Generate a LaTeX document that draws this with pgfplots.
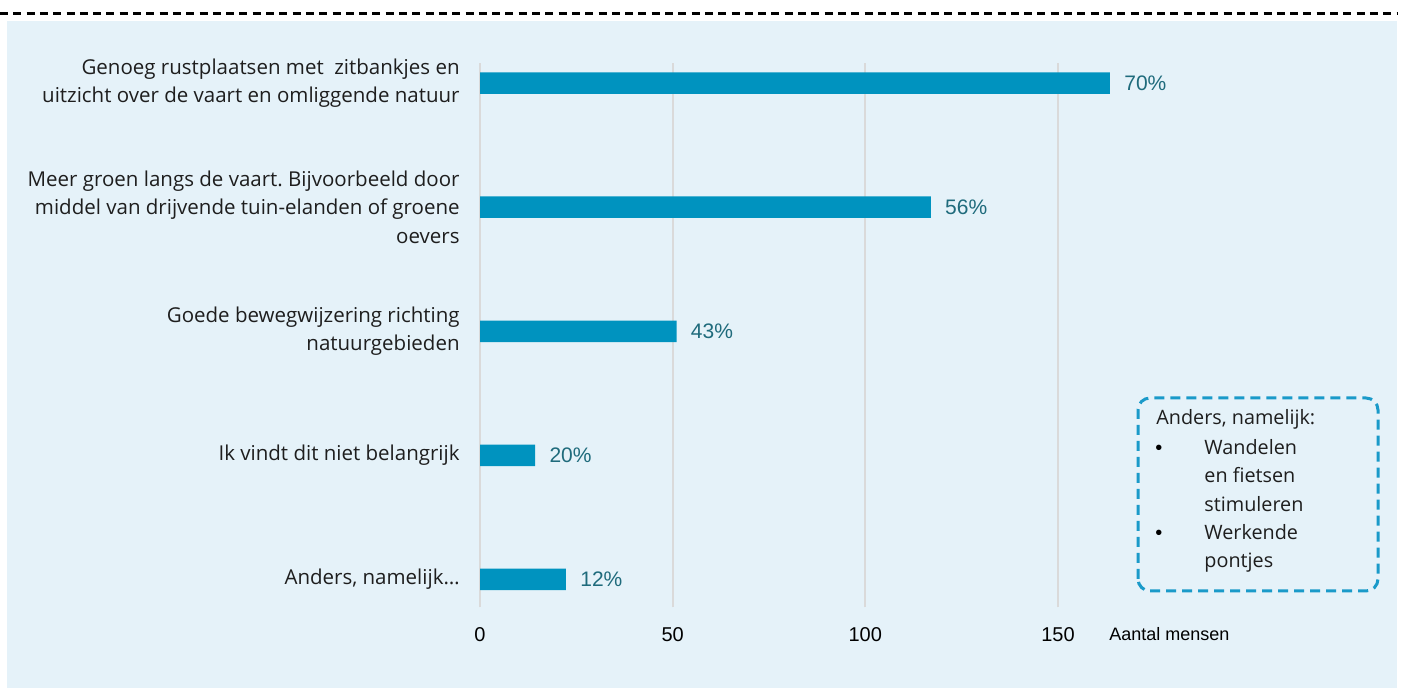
\documentclass[border=0pt]{standalone}
\usepackage{pgfplots}
\pgfplotsset{compat=1.18}
\usepackage{pgfplotstable}
\usepackage{fontspec}
\setmainfont{Liberation Sans}
\newfontfamily\labfont{Open Sans}
\frenchspacing

\definecolor{bg}{HTML}{E5F2F9}
\definecolor{barc}{HTML}{0093BF}
\definecolor{lblc}{HTML}{1F6B7C}
\definecolor{gridc}{HTML}{DADADA}
\definecolor{boxc}{HTML}{1A9AC9}
\definecolor{txt}{HTML}{1E1E1E}

% bar length in persons, y position, percentage shown
\pgfplotstableread{
v y p
163.5 4 70
117 3 56
51 2 43
14.3 1 20
22.3 0 12
}\data

\begin{document}
\begin{tikzpicture}
\useasboundingbox (0,0) rectangle (701pt,344pt);
\fill[bg] (3.5pt,0) rectangle (698.5pt,333.5pt);
\draw[black, line width=1.5pt, dash pattern=on 4pt off 2.65pt] (0,337.3pt) -- (698.5pt,337.3pt);

\begin{axis}[
    at={(240pt,40.25pt)}, anchor=south west,
    scale only axis, width=443.1pt, height=272.2pt,
    xmin=0, xmax=230, ymin=-0.2256, ymax=4.161,
    clip=false,
    axis line style={draw=none},
    tick style={draw=none},
    major tick length=0pt,
    xtick={0,50,100,150},
    ytick={0,1,2,3,4},
    yticklabels={
        {Anders, namelijk\dots},
        {Ik vindt dit niet belangrijk},
        {Goede bewegwijzering richting\\natuurgebieden},
        {Meer groen langs de vaart. Bijvoorbeeld door\\middel van drijvende tuin-elanden of groene\\oevers},
        {Genoeg rustplaatsen met~ zitbankjes en\\uitzicht over de vaart en omliggende natuur}
    },
    xmajorgrids=true,
    major grid style={draw=gridc, line width=1pt},
    /pgf/number format/assume math mode=true,
    xticklabel style={font=\fontsize{10}{12}\selectfont, text=black, inner sep=0pt, yshift=-9.75pt},
    yticklabel style={font=\labfont\fontsize{10.25}{14.15}\selectfont, align=right, text=txt, inner sep=0pt, xshift=-10pt},
    xbar, bar width=10.75pt,
    point meta=explicit symbolic,
    nodes near coords={\pgfplotspointmeta\%},
    every node near coord/.append style={font=\fontsize{10.5}{12}\selectfont, text=lblc, anchor=west, inner sep=0pt, xshift=7pt},
]
\addplot[fill=barc, draw=none] table[x=v, y=y, meta=p] {\data};
\end{axis}

\node[anchor=west, inner sep=0pt, font=\fontsize{9}{11}\selectfont, text=black] at (554.5pt,27pt) {Aantal mensen};

\draw[boxc, line width=1.5pt, dash pattern=on 5pt off 3pt, rounded corners=6pt] (569pt,48.5pt) rectangle (689pt,145pt);

\begin{scope}[every node/.style={anchor=base west, inner sep=0pt, font=\labfont\fontsize{9.9}{12}\selectfont, text=txt}]
\node at (578pt,131.5pt) {Anders, namelijk:};
\node[font=\fontsize{10}{12}\selectfont, text=black] at (577.5pt,116.5pt) {\textbullet};
\node at (602pt,116.5pt) {Wandelen};
\node at (602pt,102.65pt) {en fietsen};
\node at (602pt,88.15pt) {stimuleren};
\node[font=\fontsize{10}{12}\selectfont, text=black] at (577.5pt,74.35pt) {\textbullet};
\node at (602pt,74.35pt) {Werkende};
\node at (602pt,60pt) {pontjes};
\end{scope}
\end{tikzpicture}
\end{document}
